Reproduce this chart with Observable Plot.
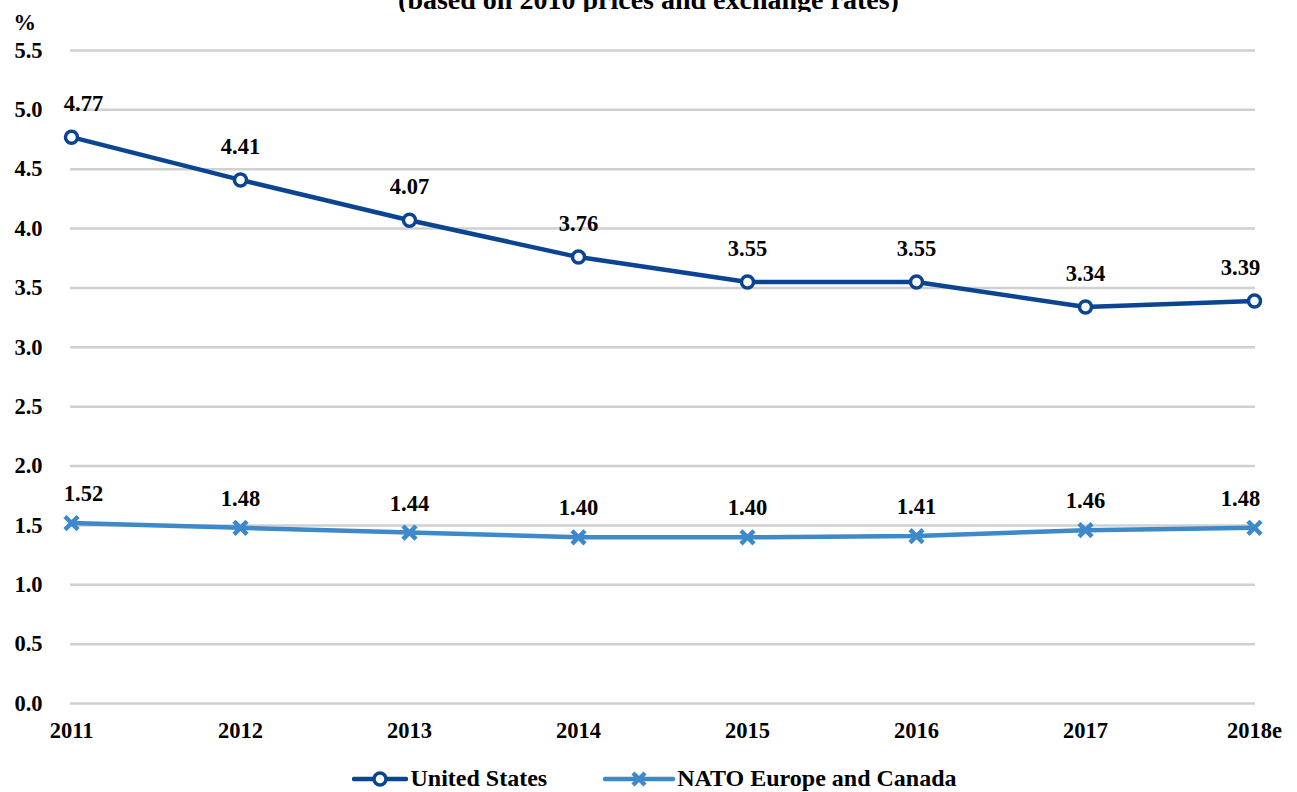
<!DOCTYPE html>
<html>
<head>
<meta charset="utf-8">
<script src="https://cdn.jsdelivr.net/npm/d3@7"></script>
<script src="https://cdn.jsdelivr.net/npm/@observablehq/plot@0.6"></script>
<style>
  body { margin: 0; background: #fff; font-family: "Liberation Serif", "DejaVu Serif", serif; position: relative; }
  #title { position: absolute; top: 0; left: 0; width: 1297px; height: 12px; overflow: hidden; z-index: 1; }
  #title span { position: absolute; left: 0; right: 0; text-align: center; bottom: -2px; font-weight: bold; font-size: 28px; color: #000; line-height: 28px; }
  #legend { display: flex; justify-content: center; align-items: center; gap: 56px; font-weight: bold; font-size: 24px; color: #000; margin-left: 12px; margin-top: 17px; }
  #legend .item { display: flex; align-items: center; gap: 2px; }
</style>
</head>
<body>
<div id="title"><span>(based on 2010 prices and exchange rates)</span></div>
<div id="chart"></div>
<div id="legend"></div>
<script>
const years = ["2011", "2012", "2013", "2014", "2015", "2016", "2017", "2018e"];
const unitedStates = [4.77, 4.41, 4.07, 3.76, 3.55, 3.55, 3.34, 3.39];
const natoEuropeCanada = [1.52, 1.48, 1.44, 1.40, 1.40, 1.41, 1.46, 1.48];
const yTicks = [0, 0.5, 1, 1.5, 2, 2.5, 3, 3.5, 4, 4.5, 5, 5.5];
const seriesNames = ["United States", "NATO Europe and Canada"];
const colors = ["#0b4591", "#3d89c9"];

const usData = years.map((y, i) => ({year: y, value: unitedStates[i], idx: i}));
const natoData = years.map((y, i) => ({year: y, value: natoEuropeCanada[i], idx: i}));
const last = years.length - 1;

const font = '"Liberation Serif", "DejaVu Serif", serif';
const fs = 22.5;

function labels(data, dy) {
  const common = {x: "year", y: "value", text: d => d.value.toFixed(2), dy, fontSize: fs, fontWeight: "bold", fill: "#000"};
  return [
    Plot.text(data, {...common, filter: d => d.idx > 0 && d.idx < last}),
    Plot.text(data, {...common, filter: d => d.idx === 0, dx: 12}),
    Plot.text(data, {...common, filter: d => d.idx === last, dx: -14})
  ];
}

const chart = Plot.plot({
  width: 1297,
  height: 748,
  marginLeft: 70,
  marginRight: 42,
  marginTop: 50,
  marginBottom: 45,
  style: {fontFamily: font, fontSize: fs + "px", fontWeight: "bold", color: "#000", background: "#fff"},
  x: {type: "point", domain: years, padding: 0},
  y: {domain: [0, 5.5]},
  marks: [
    Plot.ruleY(yTicks, {stroke: "#d0d0d0", strokeWidth: 2.5}),
    Plot.axisY({ticks: yTicks, tickSize: 0, tickPadding: 28, tickFormat: d3.format(".1f"), label: null, fontSize: fs, fontWeight: "bold"}),
    Plot.axisX({tickSize: 0, tickPadding: 19, label: null, fontSize: fs, fontWeight: "bold"}),
    Plot.text(["%"], {frameAnchor: "top-left", dx: -57, dy: -36, fontSize: fs, fontWeight: "bold"}),
    Plot.line(natoData, {x: "year", y: "value", stroke: colors[1], strokeWidth: 4.5}),
    Plot.dot(natoData, {x: "year", y: "value", symbol: "times", r: 6, stroke: colors[1], strokeWidth: 4.5}),
    Plot.line(usData, {x: "year", y: "value", stroke: colors[0], strokeWidth: 4.5}),
    Plot.dot(usData, {x: "year", y: "value", r: 6, fill: "#fff", stroke: colors[0], strokeWidth: 3.5}),
    ...labels(usData, -33),
    ...labels(natoData, -29)
  ]
});
document.getElementById("chart").appendChild(chart);

const legend = document.getElementById("legend");
const symbols = [
  `<svg width="56" height="20"><line x1="2" y1="10" x2="54" y2="10" stroke="${colors[0]}" stroke-width="4.5" stroke-linecap="round"/><circle cx="28" cy="10" r="6" fill="#fff" stroke="${colors[0]}" stroke-width="3.5"/></svg>`,
  `<svg width="72" height="20"><line x1="2" y1="10" x2="70" y2="10" stroke="${colors[1]}" stroke-width="4.5" stroke-linecap="round"/><path d="M30,4L42,16M42,4L30,16" stroke="${colors[1]}" stroke-width="4.5"/></svg>`
];
seriesNames.forEach((name, i) => {
  const item = document.createElement("div");
  item.className = "item";
  item.innerHTML = symbols[i] + `<span>${name}</span>`;
  legend.appendChild(item);
});
</script>
</body>
</html>
